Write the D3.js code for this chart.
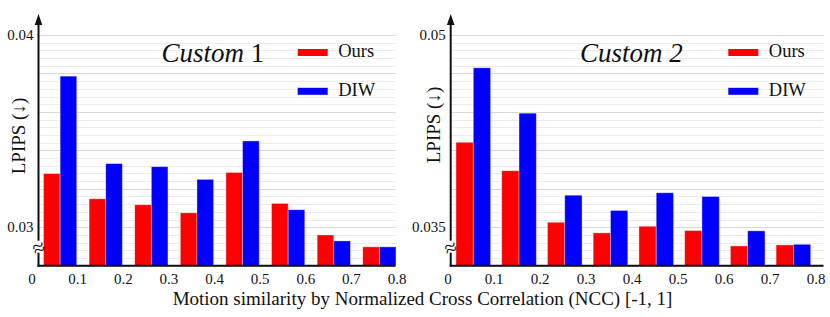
<!DOCTYPE html>
<html>
<head>
<meta charset="utf-8">
<script src="https://cdn.jsdelivr.net/npm/d3@7"></script>
<style>
  html, body { margin: 0; padding: 0; background: #fff; }
  svg { display: block; font-family: "Liberation Serif", "Times New Roman", serif; }
</style>
</head>
<body>
<svg id="chart" width="830" height="317" font-family="Liberation Serif, serif"></svg>
<script>
// ---------------- data ----------------
const bins = ["0-0.1", "0.1-0.2", "0.2-0.3", "0.3-0.4", "0.4-0.5", "0.5-0.6", "0.6-0.7", "0.7-0.8"];
const xTickLabels = [0, 0.1, 0.2, 0.3, 0.4, 0.5, 0.6, 0.7, 0.8];
const seriesNames = ["Ours", "DIW"];
const seriesColors = ["#ff0000", "#0000ff"];

const custom1Ours = [0.03279, 0.03148, 0.03117, 0.03075, 0.03285, 0.03124, 0.02960, 0.02898];
const custom1DIW  = [0.03786, 0.03331, 0.03315, 0.03249, 0.03449, 0.03091, 0.02929, 0.02898];
const custom1YTicks = [0.03, 0.04];

const custom2Ours = [0.04163, 0.03941, 0.03539, 0.03456, 0.03508, 0.03474, 0.03354, 0.03362];
const custom2DIW  = [0.04744, 0.04390, 0.03750, 0.03631, 0.03769, 0.03740, 0.03472, 0.03367];
const custom2YTicks = [0.035, 0.05];

const yLabel = "LPIPS (\u2193)";
const xLabel = "Motion similarity by Normalized Cross Correlation (NCC) [-1, 1]";

// ---------------- drawing ----------------
const svg = d3.select("#chart");

function drawPanel(cfg) {
  const g = svg.append("g");
  const y = d3.scaleLinear().domain(cfg.yDomain).range([cfg.bottom, cfg.top]);
  const x0 = d3.scaleBand().domain(bins).range([cfg.barStart, cfg.barEnd]).paddingInner(cfg.padInner).paddingOuter(0);
  const x1 = d3.scaleBand().domain(seriesNames).range([0, x0.bandwidth()]).padding(0);
  const xt = d3.scaleLinear().domain([0, 0.8]).range(cfg.tickRange);

  // minor gridlines
  const minor = d3.range(0, Math.round((cfg.yDomain[1] - cfg.yDomain[0]) / cfg.minorStep) + 1)
    .map(i => cfg.yDomain[0] + i * cfg.minorStep);
  g.append("g").selectAll("line").data(minor).join("line")
    .attr("x1", cfg.axisX).attr("x2", cfg.gridEnd)
    .attr("y1", d => Math.round(y(d)) + 0.5).attr("y2", d => Math.round(y(d)) + 0.5)
    .attr("stroke", "#ececec").attr("stroke-width", 1);
  const major = d3.range(0, Math.round((cfg.yDomain[1] - cfg.yDomain[0]) / cfg.majorStep) + 1)
    .map(i => cfg.yDomain[0] + i * cfg.majorStep);
  g.append("g").selectAll("line").data(major).join("line")
    .attr("x1", cfg.axisX).attr("x2", cfg.gridEnd)
    .attr("y1", d => Math.round(y(d)) + 0.5).attr("y2", d => Math.round(y(d)) + 0.5)
    .attr("stroke", "#d8d8d8").attr("stroke-width", 1.2);

  // bars
  const groups = g.append("g").selectAll("g").data(bins).join("g")
    .attr("transform", d => `translate(${x0(d)},0)`);
  groups.selectAll("rect")
    .data((d, i) => seriesNames.map((s, k) => ({ s, k, v: cfg.values[k][i] })))
    .join("rect")
    .attr("x", d => x1(d.s))
    .attr("width", x1.bandwidth())
    .attr("y", d => y(d.v))
    .attr("height", d => y(cfg.yDomain[0]) - y(d.v))
    .attr("fill", d => seriesColors[d.k])
    .attr("stroke", "#ffffff").attr("stroke-opacity", 0.45).attr("stroke-width", 0.8);

  // y axis with arrow and break
  const ax = g.append("g");
  ax.append("line").attr("x1", cfg.axisX).attr("x2", cfg.axisX)
    .attr("y1", cfg.top - 12).attr("y2", cfg.bottom - 25)
    .attr("stroke", "#111").attr("stroke-width", 2);
  ax.append("line").attr("x1", cfg.axisX).attr("x2", cfg.axisX)
    .attr("y1", cfg.bottom - 13).attr("y2", cfg.bottom + 1)
    .attr("stroke", "#111").attr("stroke-width", 2);
  ax.append("path")
    .attr("d", `M${cfg.axisX},${cfg.top - 21} L${cfg.axisX - 3.8},${cfg.top - 10} L${cfg.axisX + 3.8},${cfg.top - 10} Z`)
    .attr("fill", "#111");
  ax.append("text")
    .attr("transform", `translate(${cfg.axisX},${cfg.bottom - 18}) rotate(-20)`)
    .attr("text-anchor", "middle").attr("dominant-baseline", "central")
    .attr("font-size", 22).attr("fill", "#111")
    .text("\u2248");
  // baseline
  ax.append("line").attr("x1", cfg.axisX - 1).attr("x2", cfg.gridEnd)
    .attr("y1", cfg.bottom).attr("y2", cfg.bottom)
    .attr("stroke", "#111").attr("stroke-width", 2);

  // y tick labels
  g.append("g").selectAll("text").data(cfg.yTicks).join("text")
    .attr("x", cfg.axisX - 5).attr("y", d => y(d) + 5)
    .attr("text-anchor", "end").attr("font-size", 15).attr("fill", "#111")
    .text(d => d);

  // x tick labels
  g.append("g").selectAll("text").data(xTickLabels).join("text")
    .attr("x", d => xt(d)).attr("y", cfg.bottom + 18)
    .attr("text-anchor", "middle").attr("font-size", 15).attr("fill", "#111")
    .text(d => d);

  // y label
  g.append("text")
    .attr("transform", `translate(${cfg.yLabelX},${cfg.yLabelY}) rotate(-90)`)
    .attr("text-anchor", "middle").attr("font-size", 19).attr("fill", "#111")
    .text(yLabel);

  // title
  const t = g.append("text").attr("x", cfg.titleX).attr("y", 62)
    .attr("font-size", 27).attr("fill", "#111");
  t.append("tspan").attr("font-style", "italic").text("Custom");
  t.append("tspan").attr("font-style", cfg.numItalic ? "italic" : "normal").text(" " + cfg.num);

  // legend
  const lg = g.append("g").selectAll("g").data(seriesNames).join("g")
    .attr("transform", (d, i) => `translate(${cfg.legendX},${52.5 + i * 38.8})`);
  lg.append("rect").attr("x", 0).attr("y", -3.5).attr("width", 30).attr("height", 7)
    .attr("fill", (d, i) => seriesColors[i]);
  lg.append("text").attr("x", 40.5).attr("y", 4.5).attr("font-size", 18.5).attr("fill", "#111")
    .text(d => d);
}

drawPanel({
  values: [custom1Ours, custom1DIW], yDomain: [0.028, 0.04], yTicks: custom1YTicks,
  majorStep: 0.002, minorStep: 0.0004,
  top: 35, bottom: 265.7, axisX: 38.5, gridEnd: 395.5,
  barStart: 43.5, barEnd: 396, padInner: 0.271,
  tickRange: [32, 397], yLabelX: 24.5, yLabelY: 136,
  titleX: 161.5, num: "1", numItalic: false, legendX: 297.7
});

drawPanel({
  values: [custom2Ours, custom2DIW], yDomain: [0.032, 0.05], yTicks: custom2YTicks,
  majorStep: 0.003, minorStep: 0.0006,
  top: 35, bottom: 265.7, axisX: 450.7, gridEnd: 823.5,
  barStart: 456, barEnd: 810.7, padInner: 0.2434,
  tickRange: [448, 816], yLabelX: 439.5, yLabelY: 125,
  titleX: 580, num: "2", numItalic: true, legendX: 728.3
});

svg.append("text").attr("x", 422.5).attr("y", 305)
  .attr("text-anchor", "middle").attr("font-size", 19).attr("fill", "#111")
  .text(xLabel);
</script>
</body>
</html>
